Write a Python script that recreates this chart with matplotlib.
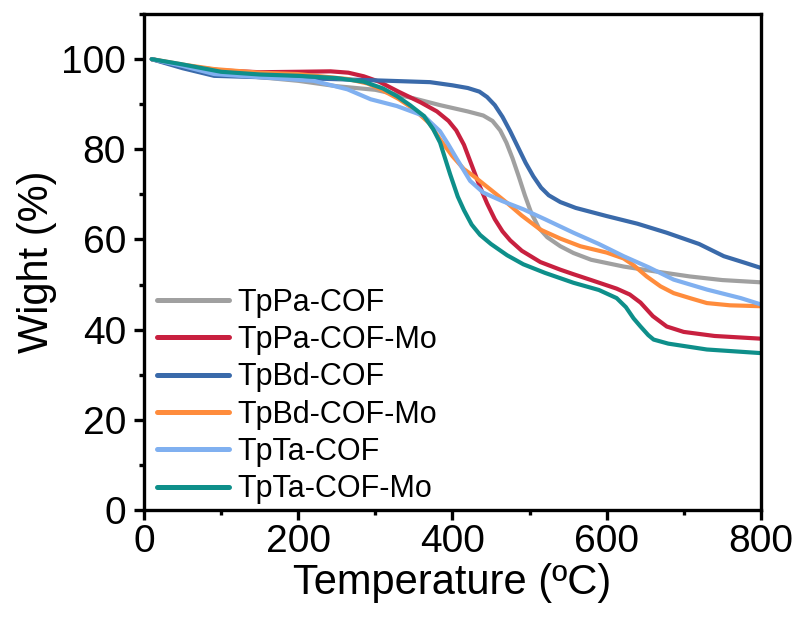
import matplotlib
matplotlib.use("Agg")
import matplotlib.pyplot as plt
from matplotlib.ticker import MultipleLocator

plt.rcParams['font.family'] = ['Liberation Sans', 'DejaVu Sans']

# ---- data ----
tppa_T = [10, 50, 100, 150, 200, 250, 300, 350, 384, 420, 440, 452, 462, 470, 478, 486, 494, 502, 512, 523, 540, 557, 580, 622, 660, 708, 750, 800]
tppa_W = [100, 98.3, 96.7, 96, 95.2, 94, 93.2, 91.3, 89.8, 88.4, 87.5, 86.3, 84.2, 81.5, 78, 74, 69.8, 66, 62.6, 60.5, 58.5, 57, 55.5, 54, 53, 51.8, 51, 50.5]

tppamo_T = [10, 50, 100, 150, 200, 242, 265, 285, 305, 330, 359, 380, 395, 405, 415, 425, 435, 445, 455, 465, 475, 490, 514, 540, 557, 580, 613, 630, 644, 660, 678, 700, 740, 800]
tppamo_W = [100, 98.6, 97.5, 97.1, 97.2, 97.3, 97, 96.2, 95, 92.8, 90.4, 88.4, 86.3, 84.2, 81, 76.5, 72, 68, 64.5, 61.8, 59.8, 57.5, 55, 53.3, 52.3, 51, 49.1, 47.8, 46, 43, 40.7, 39.5, 38.6, 38]

tpbd_T = [10, 50, 91, 150, 200, 242, 300, 371, 400, 420, 435, 445, 455, 465, 475, 485, 495, 505, 515, 525, 540, 560, 600, 640, 678, 720, 752, 780, 800]
tpbd_W = [100, 98, 96.3, 96, 95.8, 95.6, 95.3, 94.9, 94.2, 93.6, 92.8, 91.6, 89.8, 87.2, 84, 80.5, 77, 74, 71.5, 69.8, 68.3, 67, 65.2, 63.5, 61.5, 59, 56.3, 54.8, 53.7]

tpbdmo_T = [10, 50, 91, 150, 199, 264, 290, 307, 330, 350, 370, 384, 400, 415, 428, 450, 471, 490, 514, 540, 566, 600, 622, 635, 652, 670, 687, 710, 730, 760, 800]
tpbdmo_W = [100, 98.8, 97.8, 97, 96.7, 95.6, 94.6, 93.3, 91.2, 88.9, 85.8, 82.2, 78.5, 75.6, 74, 71, 68.1, 65.3, 62.2, 60.2, 58.5, 57.1, 55.8, 54.3, 51.8, 49.6, 48.1, 46.9, 45.9, 45.4, 45.2]

tpta_T = [10, 50, 91, 150, 220, 264, 294, 328, 363, 384, 395, 406, 423, 440, 465, 492, 520, 557, 590, 622, 655, 687, 730, 774, 800]
tpta_W = [100, 98.5, 96.7, 96, 95.2, 93.3, 91.1, 89.6, 87.4, 84, 81, 77.8, 73, 70.4, 68.5, 66.7, 64.5, 61.5, 59, 56.3, 53.8, 51.1, 48.9, 47, 45.6]

tptamo_T = [10, 48, 100, 150, 200, 250, 285, 310, 328, 345, 363, 375, 384, 397, 407, 415, 425, 436, 450, 471, 492, 520, 557, 590, 613, 625, 635, 644, 654, 661, 680, 730, 800]
tptamo_W = [100, 98.9, 97.2, 96.6, 96.3, 95.8, 95, 93.5, 91.8, 89.8, 87.4, 84.5, 81.5, 74.5, 69.5, 66.5, 63.3, 61, 59, 56.5, 54.5, 52.6, 50.4, 48.8, 47, 45, 42.5, 40.7, 38.8, 37.8, 36.9, 35.6, 34.8]

labels = ['TpPa-COF', 'TpPa-COF-Mo', 'TpBd-COF', 'TpBd-COF-Mo', 'TpTa-COF', 'TpTa-COF-Mo']
colors = ['#A0A0A0', '#C8203F', '#3A6AAA', '#FF8C3C', '#80B0F0', '#0E8F8A']
series = [(tppa_T, tppa_W), (tppamo_T, tppamo_W), (tpbd_T, tpbd_W),
          (tpbdmo_T, tpbdmo_W), (tpta_T, tpta_W), (tptamo_T, tptamo_W)]

fig = plt.figure(figsize=(8, 6.23), dpi=100)
ax = fig.add_axes([0.18, 0.1814, 0.771, 0.796])

for (T, W), lab, c in zip(series, labels, colors):
    ax.plot(T, W, color=c, lw=3.0, label=lab, solid_capstyle='round', solid_joinstyle='round')

ax.set_xlim(0, 800)
ax.set_ylim(0, 110)
ax.xaxis.set_major_locator(MultipleLocator(200))
ax.xaxis.set_minor_locator(MultipleLocator(100))
ax.yaxis.set_major_locator(MultipleLocator(20))
ax.yaxis.set_minor_locator(MultipleLocator(10))

for s in ax.spines.values():
    s.set_linewidth(2.4)
ax.tick_params(which='major', direction='out', length=7, width=2.4, labelsize=28)
ax.tick_params(axis='x', which='major', pad=3)
ax.tick_params(axis='y', which='major', pad=6)
ax.tick_params(which='minor', direction='out', length=3.5, width=2.4)
ax.tick_params(top=False, right=False, which='both')

ax.set_xlabel('Temperature (ºC)', fontsize=30, labelpad=2)
ax.set_ylabel('Wight (%)', fontsize=30, labelpad=3)

leg = ax.legend(loc='upper left', bbox_to_anchor=(0.021, 0.448), frameon=False,
                fontsize=22, handlelength=2.35, handletextpad=0.27,
                labelspacing=0.24, borderpad=0, borderaxespad=0)
for h in leg.get_lines():
    h.set_linewidth(3.6)

fig.savefig('out.png', dpi=100)
